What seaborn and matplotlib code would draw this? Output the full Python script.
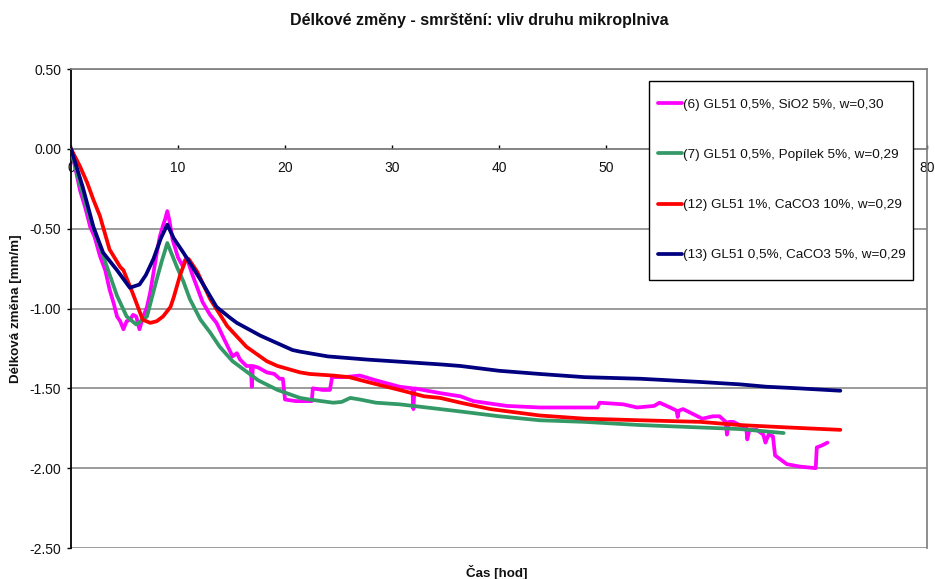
import numpy as np
import pandas as pd
import matplotlib
matplotlib.use("Agg")
import matplotlib.pyplot as plt
from matplotlib.lines import Line2D
from matplotlib.patches import Rectangle
import seaborn as sns

# ---------------- data ----------------
labels = [
    "(6) GL51 0,5%, SiO2 5%, w=0,30",
    "(7) GL51 0,5%, Popílek 5%, w=0,29",
    "(12) GL51 1%, CaCO3 10%, w=0,29",
    "(13) GL51 0,5%, CaCO3 5%, w=0,29",
]
colors = ["#FF00FF", "#339966", "#FF0000", "#000080"]

s6_x = [0, 0.4, 0.84, 1.3, 1.8, 2.2, 2.7, 3.2, 3.6, 4.0, 4.3, 4.6, 4.9, 5.2, 5.5, 5.8,
        6.1, 6.4, 6.7, 7.1, 7.4, 7.7, 8.0, 8.3, 8.6, 8.8, 9.0, 9.2, 9.5, 10.0, 10.4,
        10.8, 11.3, 11.8, 12.3, 13.0, 13.6, 14.3, 15.1, 15.5, 15.8, 16.4, 16.8, 16.9,
        17.0, 17.5, 18.3, 19.0, 19.5, 19.8, 20.0, 21.0, 22.3, 22.5, 22.6, 23.5, 24.2,
        24.4, 25.5, 27.0, 28.5, 30.7, 31.9, 32.0, 32.1, 34.5, 36.4, 37.6, 40.7, 43.8,
        46.9, 49.2, 49.4, 51.6, 52.9, 54.5, 55.0, 56.0, 56.6, 56.7, 56.8, 57.2, 58.1,
        59.0, 60.0, 60.6, 61.2, 61.3, 61.5, 61.9, 62.8, 63.1, 63.2, 63.4, 64.1, 64.7,
        64.9, 65.2, 65.6, 65.8, 66.9, 68.1, 69.6, 69.7, 70.1, 70.7]
s6_y = [0, -0.12, -0.26, -0.36, -0.49, -0.55, -0.67, -0.76, -0.88, -0.97, -1.05, -1.08,
        -1.13, -1.08, -1.07, -1.04, -1.05, -1.13, -1.06, -0.99, -0.90, -0.78, -0.66,
        -0.55, -0.48, -0.44, -0.39, -0.45, -0.57, -0.68, -0.73, -0.68, -0.78, -0.87,
        -0.96, -1.04, -1.09, -1.19, -1.30, -1.28, -1.32, -1.36, -1.36, -1.49, -1.36,
        -1.37, -1.40, -1.41, -1.44, -1.44, -1.57, -1.58, -1.58, -1.58, -1.50, -1.51,
        -1.51, -1.43, -1.43, -1.42, -1.45, -1.49, -1.50, -1.63, -1.50, -1.53, -1.55,
        -1.58, -1.61, -1.62, -1.62, -1.62, -1.59, -1.60, -1.62, -1.61, -1.59, -1.62,
        -1.64, -1.68, -1.64, -1.63, -1.66, -1.69, -1.675, -1.675, -1.71, -1.79, -1.71,
        -1.71, -1.74, -1.74, -1.82, -1.76, -1.76, -1.79, -1.84, -1.79, -1.80, -1.92,
        -1.975, -1.99, -2.0, -1.87, -1.86, -1.84]

s7_x = [0, 0.7, 1.8, 3.0, 4.3, 5.2, 6.1, 7.1, 8.0, 8.5, 9.0, 9.9, 10.5, 11.1, 12.1, 13.0,
        13.9, 15.1, 16.1, 17.5, 19.3, 21.4, 22.3, 24.5, 25.3, 26.1, 27.0, 28.5, 30.7,
        34.5, 36.4, 40.0, 43.8, 48.0, 53.2, 58.8, 62.5, 66.6]
s7_y = [0, -0.19, -0.44, -0.67, -0.92, -1.05, -1.10, -1.05, -0.82, -0.70, -0.59, -0.74,
        -0.83, -0.94, -1.07, -1.15, -1.24, -1.33, -1.38, -1.45, -1.51, -1.56, -1.57,
        -1.59, -1.585, -1.56, -1.57, -1.59, -1.60, -1.63, -1.645, -1.675, -1.70, -1.71,
        -1.73, -1.745, -1.755, -1.78]

s12_x = [0, 0.84, 1.5, 2.1, 2.7, 3.6, 4.6, 4.9, 5.8, 6.7, 7.4, 8.0, 8.6, 9.3, 9.6, 10.2,
         10.7, 11.0, 11.8, 13.0, 14.6, 16.4, 18.3, 19.3, 21.4, 22.3, 24.5, 26.0, 27.7,
         30.7, 33.0, 34.5, 36.4, 39.2, 43.8, 48.0, 53.2, 58.8, 62.5, 67.0, 71.9]
s12_y = [0, -0.11, -0.21, -0.32, -0.42, -0.63, -0.74, -0.76, -0.91, -1.07, -1.09, -1.08,
         -1.05, -0.99, -0.93, -0.79, -0.70, -0.69, -0.77, -0.94, -1.11, -1.24, -1.33,
         -1.36, -1.40, -1.41, -1.42, -1.43, -1.46, -1.51, -1.55, -1.56, -1.59, -1.63,
         -1.67, -1.69, -1.70, -1.71, -1.73, -1.745, -1.76]

s13_x = [0, 1.1, 2.1, 3.0, 4.3, 5.5, 6.4, 7.0, 7.7, 8.4, 9.0, 9.6, 10.5, 12.1, 13.6, 14.9,
         15.5, 17.7, 20.7, 21.4, 24.0, 27.7, 30.0, 34.5, 36.4, 40.0, 43.8, 48.0, 53.2,
         58.8, 62.5, 65.0, 68.0, 71.9]
s13_y = [0, -0.24, -0.49, -0.65, -0.76, -0.87, -0.85, -0.79, -0.69, -0.56, -0.475, -0.56,
         -0.65, -0.82, -0.99, -1.06, -1.09, -1.17, -1.26, -1.27, -1.30, -1.32, -1.33,
         -1.35, -1.36, -1.39, -1.41, -1.43, -1.44, -1.46, -1.475, -1.49, -1.50, -1.515]

x_ticks = [0, 10, 20, 30, 40, 50, 60, 70, 80]
y_ticks = [0.5, 0.0, -0.5, -1.0, -1.5, -2.0, -2.5]
title = "Délkové změny - smrštění: vliv druhu mikroplniva"
xlabel = "Čas [hod]"
ylabel = "Délková změna [mm/m]"

# ---------------- build frame ----------------
frames = []
for lab, xs, ys in zip(labels, [s6_x, s7_x, s12_x, s13_x], [s6_y, s7_y, s12_y, s13_y]):
    frames.append(pd.DataFrame({"x": xs, "y": ys, "series": lab}))
df = pd.concat(frames, ignore_index=True)

# ---------------- plot ----------------
sns.set_theme(style="white")
plt.rcParams["font.family"] = ["Liberation Sans", "DejaVu Sans"]

W, H = 935, 579
fig = plt.figure(figsize=(W / 100, H / 100), dpi=100)
ax = fig.add_axes([71 / W, 1 - 548 / H, (927 - 71) / W, (548 - 69) / H])

grid_c = "#808080"
for yv in y_ticks:
    ax.axhline(yv, color=grid_c, lw=1.1, zorder=0.5)

sns.lineplot(data=df, x="x", y="y", hue="series", hue_order=labels,
             palette=dict(zip(labels, colors)), estimator=None, sort=False,
             linewidth=2.7, legend=False, ax=ax, zorder=3)

ax.set_xlim(0, 80)
ax.set_ylim(-2.5, 0.5)
ax.set_xticks(x_ticks)
ax.set_yticks(y_ticks)
ax.set_yticklabels([f"{v:.2f}" for v in y_ticks])
ax.set_xlabel("")
ax.set_ylabel("")

ax.spines["bottom"].set_position(("data", 0))
ax.spines["bottom"].set_color(grid_c)
ax.spines["bottom"].set_linewidth(1.1)
ax.spines["top"].set_color(grid_c)
ax.spines["right"].set_color(grid_c)
ax.spines["left"].set_color("black")
ax.spines["left"].set_linewidth(1.3)

ax.tick_params(axis="x", direction="in", length=3, width=1, color="black",
               pad=9, labelsize=10, labelcolor="#111111", bottom=True)
ax.tick_params(axis="y", direction="out", length=3, width=1, color="black",
               pad=4, labelsize=10, labelcolor="#111111", left=True)

# legend box (frame drawn separately so horizontal and vertical padding differ)
frame = Rectangle((649 / W, 1 - 280 / H), (913 - 649) / W, (280 - 81) / H,
                  transform=fig.transFigure, facecolor="white", edgecolor="black",
                  lw=1.0, zorder=9)
fig.patches.append(frame)

handles = [Line2D([0], [0], color=c, lw=2.7) for c in colors]
leg = fig.legend(handles, labels, loc="center left",
                 bbox_to_anchor=(658 / W, 1 - 180 / H),
                 fontsize=9.7, frameon=False, labelspacing=2.79, handlelength=1.75,
                 handletextpad=0.08, borderpad=0, borderaxespad=0)
leg.set_zorder(10)
for t in leg.get_texts():
    t.set_color("#111111")

fig.text(479 / W, 1 - 21 / H, title, ha="center", va="center",
         fontsize=11.5, fontweight="bold", color="#111111")
fig.text(497 / W, 1 - 572 / H, xlabel, ha="center", va="center",
         fontsize=9.6, fontweight="bold", color="#111111")
fig.text(16 / W, 1 - 309 / H, ylabel, ha="center", va="center", rotation=90,
         fontsize=9.6, fontweight="bold", color="#111111")

fig.savefig("out.png", dpi=100)
